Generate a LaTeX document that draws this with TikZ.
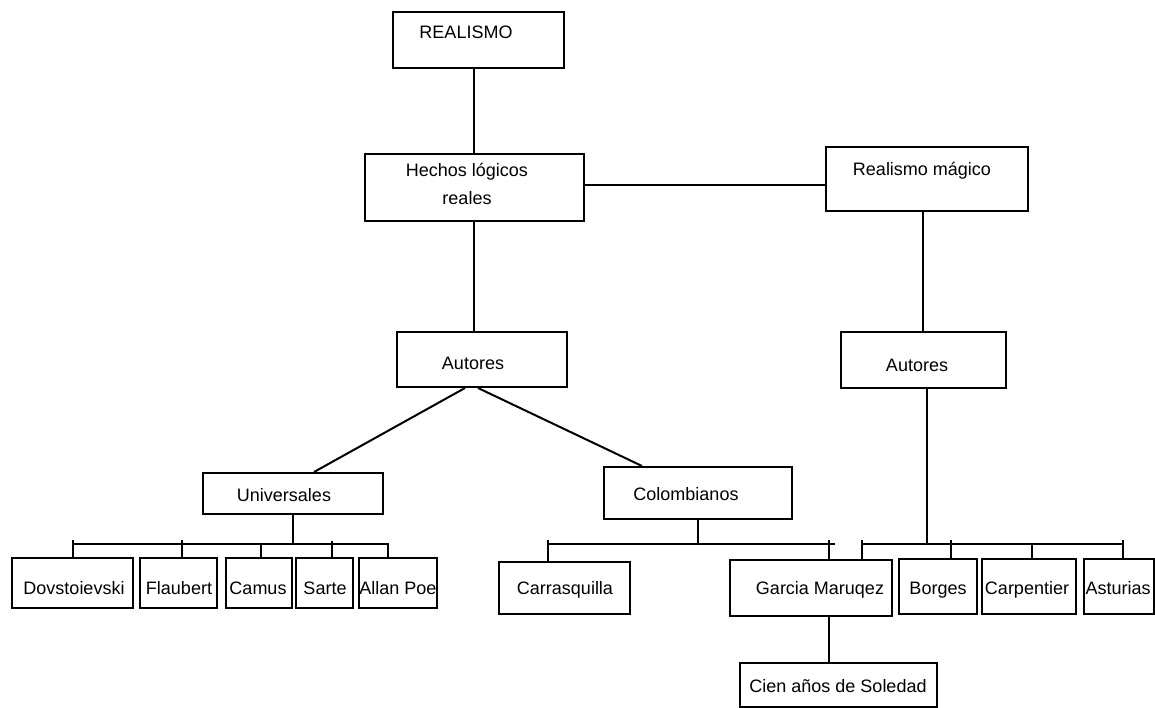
\documentclass[tikz,border=0pt]{standalone}
\usepackage{fontspec}
\setmainfont{Liberation Sans}
\begin{document}
\begin{tikzpicture}[x=1pt,y=-1pt,
  box/.style={draw=black, line width=2pt, rectangle, inner sep=0pt},
  txt/.style={inner sep=0pt, text height=12.9pt, text depth=0pt, font=\fontsize{18}{22}\selectfont},
  ln/.style={draw=black, line width=2pt}]
\useasboundingbox (0,0) rectangle (1155,708);
\fill[white] (0,0) rectangle (1155,708);

% ---------- boxes ----------
\node[box, minimum width=171pt, minimum height=56pt] (realismo) at (478.5,40) {};
\node[box, minimum width=219pt, minimum height=67pt] (hechos) at (474,187.5) {};
\node[box, minimum width=202pt, minimum height=64pt] (magico) at (927,179) {};
\node[box, minimum width=170pt, minimum height=55pt] (autL) at (482,359.5) {};
\node[box, minimum width=165pt, minimum height=56pt] (autR) at (923,360) {};
\node[box, minimum width=180pt, minimum height=41pt] (univ) at (293,493.5) {};
\node[box, minimum width=188pt, minimum height=52pt] (colom) at (698,493) {};
\node[box, minimum width=121pt, minimum height=50pt] (dov) at (72.5,583) {};
\node[box, minimum width=77pt, minimum height=50pt] (flau) at (178.5,583) {};
\node[box, minimum width=66pt, minimum height=50pt] (camus) at (259,583) {};
\node[box, minimum width=57pt, minimum height=50pt] (sarte) at (324.5,583) {};
\node[box, minimum width=78pt, minimum height=50pt] (poe) at (398,583) {};
\node[box, minimum width=131pt, minimum height=52pt] (carr) at (564.5,588) {};
\node[box, minimum width=162pt, minimum height=56pt] (garcia) at (811,588) {};
\node[box, minimum width=78pt, minimum height=55pt] (borges) at (938,586.5) {};
\node[box, minimum width=94pt, minimum height=55pt] (carp) at (1029,586.5) {};
\node[box, minimum width=69.5pt, minimum height=55pt] (ast) at (1118.75,586.5) {};
\node[box, minimum width=197pt, minimum height=44pt] (cien) at (838.5,685) {};

% ---------- texts ----------
\node[txt] (realismo-t) at (466,32) {REALISMO};
\node[inner sep=0pt, align=center, font=\fontsize{18}{28}\selectfont] (hechos-t) at (467,184) {Hechos lógicos\\reales};
\node[txt] (magico-t) at (922,169) {Realismo mágico};
\node[txt] (autL-t) at (473,363) {Autores};
\node[txt] (autR-t) at (917,365) {Autores};
\node[txt] (univ-t) at (284,495) {Universales};
\node[txt] (colom-t) at (686,494) {Colombianos};
\node[txt] (dov-t) at (74,588) {Dovstoievski};
\node[txt] (flau-t) at (179,588) {Flaubert};
\node[txt] (camus-t) at (258,588) {Camus};
\node[txt] (sarte-t) at (325,588) {Sarte};
\node[txt] (poe-t) at (398,588) {Allan Poe};
\node[txt] (carr-t) at (565,588) {Carrasquilla};
\node[txt] (garcia-t) at (820,588) {Garcia Maruqez};
\node[txt] (borges-t) at (938,588) {Borges};
\node[txt] (carp-t) at (1027,588) {Carpentier};
\node[txt] (ast-t) at (1118,588) {Asturias};
\node[txt] (cien-t) at (838,686) {Cien años de Soledad};

% ---------- helper coordinates ----------
\coordinate (hm) at (0,185);
\coordinate (bL1) at (73,544);
\coordinate (bL2) at (388,544);
\coordinate (bC1) at (548,544);
\coordinate (bC2) at (835,544);
\coordinate (bR0) at (927,544);
\coordinate (bR1) at (862,544);
\coordinate (bR2) at (1123,544);
\coordinate (gc) at (829,640);

% ---------- upper connectors ----------
\draw[ln] (realismo.south -| hechos.north) -- (hechos.north);
\draw[ln] (hechos.east |- hm) -- (magico.west |- hm);
\draw[ln] (hechos.south) -- (hechos.south |- autL.north);
\draw[ln] (magico.south -| autR.north) -- (autR.north);
\draw[ln] ([xshift=-17pt]autL.south) -- ([xshift=21pt]univ.north);
\draw[ln] ([xshift=-4pt]autL.south) -- ([xshift=-56pt]colom.north);

% ---------- left bus (Universales) ----------
\draw[ln] (univ.south) -- (univ.south |- bL1);
\draw[ln] (bL1) -- (bL2);
\draw[ln] (dov.north) -- ++(0,-17);
\draw[ln] ([xshift=3.5pt]flau.north) -- ++(0,-17);
\draw[ln] ([xshift=2pt]camus.north) -- ++(0,-14);
\draw[ln] ([xshift=7.5pt]sarte.north) -- ++(0,-16);
\draw[ln] ([xshift=-10pt]poe.north) -- ++(0,-14);

% ---------- middle bus (Colombianos) ----------
\draw[ln] (colom.south) -- (colom.south |- bC1);
\draw[ln] (bC1) -- (bC2);
\draw[ln] ([xshift=-16.5pt]carr.north) -- ++(0,-21);
\draw[ln] ([xshift=18pt]garcia.north) -- ++(0,-19);

% ---------- right bus (Autores magico) ----------
\draw[ln] (autR.south -| bR0) -- (bR0);
\draw[ln] (bR1) -- (bR2);
\draw[ln] ([xshift=51pt]garcia.north) -- ++(0,-19);
\draw[ln] ([xshift=13pt]borges.north) -- ++(0,-18);
\draw[ln] ([xshift=3pt]carp.north) -- ++(0,-15);
\draw[ln] ([xshift=4.25pt]ast.north) -- ++(0,-18);

% ---------- Garcia Marquez -> Cien anos ----------
\draw[ln] (garcia.south -| gc) -- (cien.north -| gc);
\end{tikzpicture}
\end{document}
